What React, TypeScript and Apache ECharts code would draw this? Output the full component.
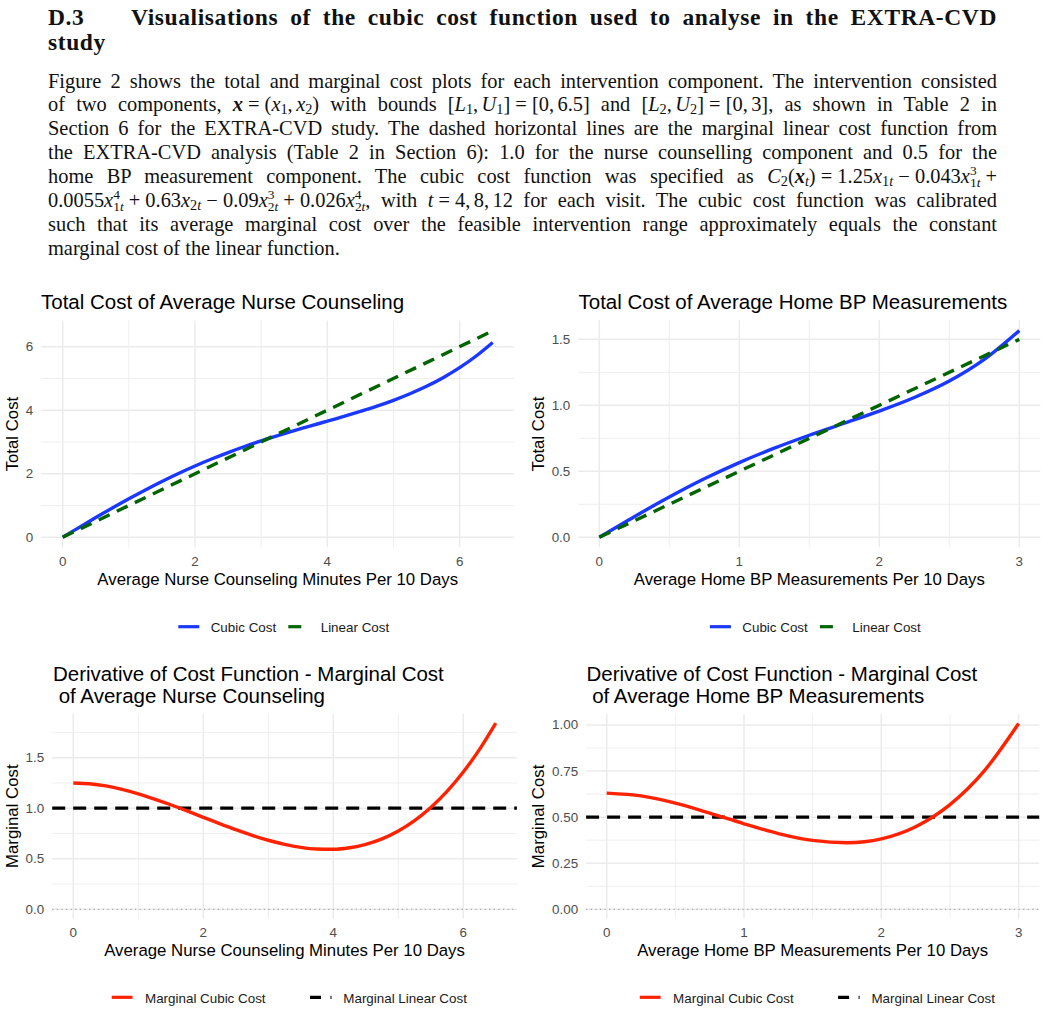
import React, { useEffect, useRef } from "react";
import * as echarts from "echarts";

// ---------------- data ----------------
const nurseMinutes = [0, 0.25, 0.5, 0.75, 1, 1.25, 1.5, 1.75, 2, 2.25, 2.5, 2.75, 3, 3.25, 3.5, 3.75, 4, 4.25, 4.5, 4.75, 5, 5.25, 5.5, 5.75, 6, 6.25, 6.5];
const nurseCubicTotalCost = [0, 0.312, 0.62, 0.921, 1.213, 1.492, 1.758, 2.009, 2.244, 2.464, 2.668, 2.858, 3.035, 3.2, 3.357, 3.508, 3.656, 3.806, 3.962, 4.129, 4.313, 4.519, 4.754, 5.025, 5.34, 5.707, 6.134];
const nurseCubicMarginalCost = [1.25, 1.242, 1.221, 1.187, 1.143, 1.091, 1.034, 0.973, 0.91, 0.848, 0.788, 0.732, 0.683, 0.643, 0.613, 0.596, 0.594, 0.609, 0.643, 0.697, 0.775, 0.878, 1.008, 1.167, 1.358, 1.582, 1.842];
const nurseLinearMinutes = [0, 6.5];
const nurseLinearTotalCost = [0, 6.5];
const nurseLinearMarginalCost = 1.0;

const homeMeasurements = [0, 0.25, 0.5, 0.75, 1, 1.25, 1.5, 1.75, 2, 2.25, 2.5, 2.75, 3];
const homeCubicTotalCost = [0, 0.156, 0.305, 0.443, 0.566, 0.675, 0.773, 0.864, 0.956, 1.059, 1.184, 1.348, 1.566];
const homeCubicMarginalCost = [0.63, 0.615, 0.576, 0.522, 0.464, 0.411, 0.374, 0.361, 0.382, 0.448, 0.568, 0.751, 1.008];
const homeLinearMeasurements = [0, 3];
const homeLinearTotalCost = [0, 1.5];
const homeLinearMarginalCost = 0.5;

const zeroReference = 0;

const nurseXTicks = [0, 2, 4, 6];
const homeXTicks = [0, 1, 2, 3];
const nurseTotalYTicks = [0, 2, 4, 6];
const homeTotalYTicks = [0, 0.5, 1, 1.5];
const nurseMarginalYTicks = [0, 0.5, 1, 1.5];
const homeMarginalYTicks = [0, 0.25, 0.5, 0.75, 1];

const topLegendLabels = ["Cubic Cost", "Linear Cost"];
const bottomLegendLabels = ["Marginal Cubic Cost", "Marginal Linear Cost"];

// ---------------- styles ----------------
const SANS = '"Liberation Sans", Arial, Helvetica, sans-serif';
const SERIF = '"Liberation Serif", "Times New Roman", serif';
const BLUE = "#1a38ff";
const GREEN = "#006400";
const RED = "#ff2200";
const BLACK = "#000000";
const GRIDC = "#ebebeb";

function expand(vals: number[]): [number, number] {
  const lo = Math.min(...vals);
  const hi = Math.max(...vals);
  const d = (hi - lo) * 0.05;
  return [lo - d, hi + d];
}
function minorsOf(ticks: number[], ext: [number, number]) {
  const step = ticks[1] - ticks[0];
  const out: number[] = [];
  for (let i = -1; i < ticks.length; i++) {
    const v = ticks[0] + (i + 0.5) * step;
    if (v > ext[0] && v < ext[1]) out.push(v);
  }
  return out;
}
const pairs = (xs: number[], ys: number[]) => xs.map((x, i) => [x, ys[i]]);

function buildOption() {
  const nurseXExt = expand(nurseMinutes);
  const homeXExt = expand(homeMeasurements);
  const panels = [
    {
      box: [41.2, 320.5, 473, 227.1],
      xExt: nurseXExt,
      yExt: expand([...nurseCubicTotalCost, ...nurseLinearTotalCost]),
      xTicks: nurseXTicks, yTicks: nurseTotalYTicks, xDec: 0, yDec: 0,
      xName: "Average Nurse Counseling Minutes Per 10 Days", yName: "Total Cost", yGap: 20.6,
    },
    {
      box: [578.3, 320.3, 462, 227.3],
      xExt: homeXExt,
      yExt: expand([...homeCubicTotalCost, ...homeLinearTotalCost]),
      xTicks: homeXTicks, yTicks: homeTotalYTicks, xDec: 0, yDec: 1,
      xName: "Average Home BP Measurements Per 10 Days", yName: "Total Cost", yGap: 31.3,
    },
    {
      box: [52.2, 713.8, 464.7, 204.8],
      xExt: nurseXExt,
      yExt: expand([...nurseCubicMarginalCost, nurseLinearMarginalCost, zeroReference]),
      xTicks: nurseXTicks, yTicks: nurseMarginalYTicks, xDec: 0, yDec: 1,
      xName: "Average Nurse Counseling Minutes Per 10 Days", yName: "Marginal Cost", yGap: 31.4,
    },
    {
      box: [586.1, 714.2, 453.1, 204.4],
      xExt: homeXExt,
      yExt: expand([...homeCubicMarginalCost, homeLinearMarginalCost, zeroReference]),
      xTicks: homeXTicks, yTicks: homeMarginalYTicks, xDec: 0, yDec: 2,
      xName: "Average Home BP Measurements Per 10 Days", yName: "Marginal Cost", yGap: 39,
    },
  ];

  const grid: any[] = [];
  const xAxis: any[] = [];
  const yAxis: any[] = [];
  const series: any[] = [];

  panels.forEach((p, i) => {
    grid.push({
      left: p.box[0], top: p.box[1], width: p.box[2], height: p.box[3],
      containLabel: false, outerBoundsMode: "none",
    });
    xAxis.push({
      type: "value", gridIndex: i, min: p.xExt[0], max: p.xExt[1],
      axisLine: { show: false }, axisTick: { show: false }, splitLine: { show: false },
      axisLabel: {
        customValues: p.xTicks, formatter: (v: number) => Number(v).toFixed(p.xDec),
        margin: 7, color: "#4d4d4d", fontSize: 13.4, fontFamily: SANS,
      },
      name: p.xName, nameLocation: "middle", nameGap: 23.5,
      nameTextStyle: { fontSize: 16.8, color: "#000", fontFamily: SANS },
    });
    yAxis.push({
      type: "value", gridIndex: i, min: p.yExt[0], max: p.yExt[1],
      axisLine: { show: false }, axisTick: { show: false }, splitLine: { show: false },
      axisLabel: {
        customValues: p.yTicks, formatter: (v: number) => Number(v).toFixed(p.yDec),
        margin: 8, color: "#4d4d4d", fontSize: 13.4, fontFamily: SANS,
      },
      name: p.yName, nameLocation: "middle", nameGap: p.yGap,
      nameTextStyle: { fontSize: 16.8, color: "#000", fontFamily: SANS },
    });
    const gl = (data: number[][], major: boolean) =>
      series.push({
        type: "line", xAxisIndex: i, yAxisIndex: i, data, symbol: "none", silent: true, z: 1,
        lineStyle: { color: GRIDC, width: major ? 1.5 : 0.8 }, tooltip: { show: false },
      });
    minorsOf(p.xTicks, p.xExt).forEach((v) => gl([[v, p.yExt[0]], [v, p.yExt[1]]], false));
    minorsOf(p.yTicks, p.yExt).forEach((v) => gl([[p.xExt[0], v], [p.xExt[1], v]], false));
    p.xTicks.forEach((v) => gl([[v, p.yExt[0]], [v, p.yExt[1]]], true));
    p.yTicks.forEach((v) => gl([[p.xExt[0], v], [p.xExt[1], v]], true));
  });

  // Total cost panels
  series.push({
    name: topLegendLabels[0], type: "line", xAxisIndex: 0, yAxisIndex: 0, z: 3,
    data: pairs(nurseMinutes, nurseCubicTotalCost), smooth: 0.3, symbol: "none",
    lineStyle: { color: BLUE, width: 3.4 },
  });
  series.push({
    name: topLegendLabels[1], type: "line", xAxisIndex: 0, yAxisIndex: 0, z: 4,
    data: pairs(nurseLinearMinutes, nurseLinearTotalCost), symbol: "none",
    lineStyle: { color: GREEN, width: 3.4, type: [12, 8] },
  });
  series.push({
    name: topLegendLabels[0], type: "line", xAxisIndex: 1, yAxisIndex: 1, z: 3,
    data: pairs(homeMeasurements, homeCubicTotalCost), smooth: 0.3, symbol: "none",
    lineStyle: { color: BLUE, width: 3.4 },
  });
  series.push({
    name: topLegendLabels[1], type: "line", xAxisIndex: 1, yAxisIndex: 1, z: 4,
    data: pairs(homeLinearMeasurements, homeLinearTotalCost), symbol: "none",
    lineStyle: { color: GREEN, width: 3.4, type: [12, 8] },
  });

  // Marginal cost panels
  const marg = [
    { idx: 2, xExt: panels[2].xExt, xs: nurseMinutes, ys: nurseCubicMarginalCost, lin: nurseLinearMarginalCost },
    { idx: 3, xExt: panels[3].xExt, xs: homeMeasurements, ys: homeCubicMarginalCost, lin: homeLinearMarginalCost },
  ];
  marg.forEach((m) => {
    series.push({
      type: "line", xAxisIndex: m.idx, yAxisIndex: m.idx, z: 2, silent: true,
      data: [[m.xExt[0], zeroReference], [m.xExt[1], zeroReference]], symbol: "none",
      lineStyle: { color: "#a6a6a6", width: 1.2, type: [1.2, 3.4] },
    });
    series.push({
      name: bottomLegendLabels[1], type: "line", xAxisIndex: m.idx, yAxisIndex: m.idx, z: 3,
      data: [[m.xExt[0], m.lin], [m.xExt[1], m.lin]], symbol: "none",
      lineStyle: { color: BLACK, width: 3.2, type: [13, 8] },
    });
    series.push({
      name: bottomLegendLabels[0], type: "line", xAxisIndex: m.idx, yAxisIndex: m.idx, z: 4,
      data: pairs(m.xs, m.ys), smooth: 0.3, symbol: "none",
      lineStyle: { color: RED, width: 3.4 },
    });
  });

  const titleStyle = { fontSize: 20.5, fontWeight: "normal", color: "#000", fontFamily: SANS, lineHeight: 22 };
  const title = [
    { text: "Total Cost of Average Nurse Counseling", left: 41, top: 290, padding: 0, textStyle: titleStyle },
    { text: "Total Cost of Average Home BP Measurements", left: 578.5, top: 290, padding: 0, textStyle: titleStyle },
    { text: "Derivative of Cost Function - Marginal Cost\n of Average Nurse Counseling", left: 53, top: 662, padding: 0, textStyle: titleStyle },
    { text: "Derivative of Cost Function - Marginal Cost\n of Average Home BP Measurements", left: 586.5, top: 662, padding: 0, textStyle: titleStyle },
  ];

  // legends (ggplot style keys)
  const graphic: any[] = [];
  const legendText = (x: number, y: number, text: string) => ({
    type: "text", x, y, silent: true,
    style: { text, fill: "#1a1a1a", fontSize: 13.4, fontFamily: SANS, align: "left", verticalAlign: "middle" },
  });
  const key = (x1: number, x2: number, y: number, color: string, dash?: number[]) => ({
    type: "line", silent: true,
    shape: { x1, y1: y, x2, y2: y },
    style: { stroke: color, lineWidth: 3.2, lineDash: dash || null },
  });
  [0, 531.6].forEach((dx) => {
    graphic.push(key(178.3 + dx, 199.3 + dx, 626.7, BLUE));
    graphic.push(legendText(210.7 + dx, 627.2, topLegendLabels[0]));
    graphic.push(key(288.3 + dx, 310 + dx, 626.7, GREEN, [13, 10]));
    graphic.push(legendText(320.7 + dx, 627.2, topLegendLabels[1]));
  });
  [0, 528.1].forEach((dx) => {
    graphic.push(key(111.7 + dx, 132.5 + dx, 997.3, RED));
    graphic.push(legendText(145 + dx, 998.3, bottomLegendLabels[0]));
    graphic.push(key(310 + dx, 331.5 + dx, 997.3, BLACK, [11, 9.5]));
    graphic.push(legendText(343.3 + dx, 998.3, bottomLegendLabels[1]));
  });

  return {
    animation: false,
    backgroundColor: "#ffffff",
    textStyle: { fontFamily: SANS },
    title, grid, xAxis, yAxis, series, graphic,
  };
}

// ---------------- header text ----------------
const M = "\u2005";
const C6 = "\u2006";
const Sb = ({ c }: { c: any }) => (
  <sub style={{ fontSize: "0.7em", lineHeight: 0, verticalAlign: "-0.2em" }}>{c}</sub>
);
const SS = ({ p, b }: { p: any; b: any }) => (
  <>
    <sup style={{ fontSize: "0.66em", lineHeight: 0, verticalAlign: "0.6em" }}>{p}</sup>
    <sub style={{ fontSize: "0.66em", lineHeight: 0, verticalAlign: "-0.3em", marginLeft: "-0.5em" }}>{b}</sub>
  </>
);
const bx = <b><i>x</i></b>;
const t1 = <>1<i>t</i></>;
const t2 = <>2<i>t</i></>;

const bodyTop = (k: number) => 68.5 + 23.93 * k;
const ls = (k: number, last = false): React.CSSProperties => ({
  position: "absolute", left: 48, top: bodyTop(k), width: 949,
  fontFamily: SERIF, fontSize: 20.4, lineHeight: "24px", color: "#111",
  textAlign: last ? "left" : "justify", textAlignLast: last ? "left" : "justify",
  whiteSpace: "normal", margin: 0,
});
const headStyle = (top: number): React.CSSProperties => ({
  position: "absolute", left: 48, top, width: 949, fontFamily: SERIF, fontWeight: "bold",
  fontSize: 23.5, lineHeight: "25px", color: "#111", letterSpacing: "0.6px",
});

function Header() {
  return (
    <div style={{ position: "absolute", left: 0, top: 0, width: 1047, height: 270, zIndex: 2, pointerEvents: "none" }}>
      <div style={{ ...headStyle(5), display: "flex" }}>
        <span style={{ width: 83, flex: "none" }}>D.3</span>
        <span style={{ flex: 1, textAlign: "justify", textAlignLast: "justify" }}>Visualisations of the cubic cost function used to analyse in the EXTRA-CVD</span>
      </div>
      <div style={headStyle(30)}>study</div>
      <div style={ls(0)}>Figure 2 shows the total and marginal cost plots for each intervention component. The intervention consisted</div>
      <div style={ls(1)}>of two components, {bx}{M}={M}(<i>x</i><Sb c="1" />,{C6}<i>x</i><Sb c="2" />) with bounds [<i>L</i><Sb c="1" />,{C6}<i>U</i><Sb c="1" />]{M}={M}[0,{C6}6.5] and [<i>L</i><Sb c="2" />,{C6}<i>U</i><Sb c="2" />]{M}={M}[0,{C6}3], as shown in Table 2 in</div>
      <div style={ls(2)}>Section 6 for the EXTRA-CVD study. The dashed horizontal lines are the marginal linear cost function from</div>
      <div style={ls(3)}>the EXTRA-CVD analysis (Table 2 in Section 6): 1.0 for the nurse counselling component and 0.5 for the</div>
      <div style={ls(4)}>home BP measurement component. The cubic cost function was specified as <i>C</i><Sb c="2" />({bx}<Sb c={<i>t</i>} />){M}={M}1.25<i>x</i><Sb c={t1} />{M}−{M}0.043<i>x</i><SS p="3" b={t1} />{M}+</div>
      <div style={ls(5)}>0.0055<i>x</i><SS p="4" b={t1} />{M}+{M}0.63<i>x</i><Sb c={t2} />{M}−{M}0.09<i>x</i><SS p="3" b={t2} />{M}+{M}0.026<i>x</i><SS p="4" b={t2} />, with <i>t</i>{M}={M}4,{C6}8,{C6}12 for each visit. The cubic cost function was calibrated</div>
      <div style={ls(6)}>such that its average marginal cost over the feasible intervention range approximately equals the constant</div>
      <div style={ls(7, true)}>marginal cost of the linear function.</div>
    </div>
  );
}

export default function App() {
  const ref = useRef<HTMLDivElement>(null);
  useEffect(() => {
    if (!ref.current) return;
    const chart = echarts.init(ref.current, null, { renderer: "svg" });
    chart.setOption(buildOption() as any);
    return () => chart.dispose();
  }, []);
  return (
    <div style={{ position: "absolute", left: 0, top: 0, width: 1047, height: 1013, background: "#fff", overflow: "hidden" }}>
      <div ref={ref} style={{ position: "absolute", left: 0, top: 0, width: 1047, height: 1013 }} />
      <Header />
    </div>
  );
}
